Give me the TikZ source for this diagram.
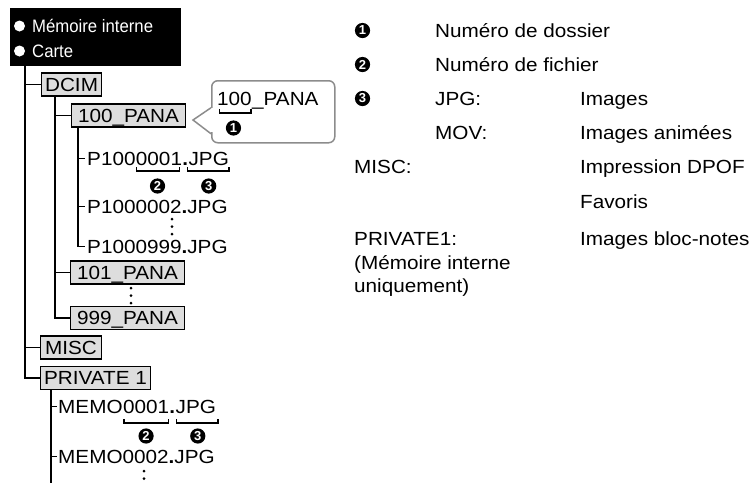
\documentclass[tikz,border=0pt]{standalone}
\usepackage{fontspec}
\setmainfont{Liberation Sans}
\newfontfamily\wf[FakeStretch=1.09]{Liberation Sans}
\newfontfamily\nf[FakeStretch=0.93]{Liberation Sans}
\usetikzlibrary{calc}
\definecolor{boxgray}{RGB}{221,221,221}
\definecolor{callgray}{RGB}{140,140,140}
\tikzset{
  txt/.style={inner sep=0pt, anchor=base west, font=\wf\fontsize{19}{23}\selectfont},
  hdrtxt/.style={inner sep=0pt, anchor=base west, text=white, font=\nf\fontsize{18}{22}\selectfont},
  folder/.style={draw=black, fill=boxgray, line width=1.1pt, inner sep=0pt, anchor=west,
    minimum height=23pt, text height=13.6pt, text depth=0pt, font=\wf\fontsize{19}{23}\selectfont},
  tree/.style={line width=1.2pt, black},
  numtxt/.style={inner sep=0pt, text=white, font=\bfseries\fontsize{13}{13}\selectfont},
  brk/.style={line width=1.4pt, black},
}
\newcommand{\brkt}[4]{\draw[brk] ($(#1.base west)+(#2,#4-4)$) |- ($(#1.base east)+(#3,#4)$) -- ($(#1.base east)+(#3,#4-4)$);}
\newcommand{\numc}[3]{\coordinate (#1c) at #2; \fill[black] (#1c) circle (7.6); \node[numtxt] (#1) at (#1c) {#3};}
\begin{document}
\begin{tikzpicture}[x=1pt,y=-1pt]
\useasboundingbox (0,0) rectangle (755,483);

% header
\node[fill=black, inner sep=0pt, minimum width=171pt, minimum height=58pt, anchor=north west] (hdr) at (10,8) {};
\fill[white] (19.5,26) circle (5.5);
\fill[white] (19.5,51) circle (5.5);
\node[hdrtxt] (h1) at (32,32) {Mémoire interne};
\node[hdrtxt] (h2) at (32,57) {Carte};

% folders
\node[folder, minimum width=60pt] (dcim) at (41,84.5) {DCIM};
\node[folder, minimum width=114pt] (p100) at (71,115.5) {100\_PANA};
\node[folder, minimum width=114pt] (p101) at (70,272.5) {101\_PANA};
\node[folder, minimum width=114pt] (p999) at (70,318) {999\_PANA};
\node[folder, minimum width=61pt] (misc) at (40,347.5) {MISC};
\node[folder, minimum width=110pt] (priv) at (40,378) {PRIVATE 1};

% main tree lines
\coordinate (mtop) at (25,66);
\draw[tree] (mtop) |- (priv.west);
\draw[tree] (mtop|-dcim.west) -- (dcim.west);
\draw[tree] (mtop|-misc.west) -- (misc.west);

\coordinate (dtop) at ($(dcim.south west)+(14,0)$);
\draw[tree] (dtop) |- (p999.west);
\draw[tree] (dtop|-p100.west) -- (p100.west);
\draw[tree] (dtop|-p101.west) -- (p101.west);

\fill (131,288) circle (1.5) (131,295.5) circle (1.5) (131,303) circle (1.5);

% files in 100_PANA
\node[txt] (f1a) at (87,165) {P100};
\node[txt] (f1b) at (f1a.base east) {0001};
\node[txt] (f1c) at (f1b.base east) {\textbf{.}};
\node[txt] (f1d) at (f1c.base east) {JPG};
\node[txt] (f2) at (87,213) {P1000002\textbf{.}JPG};
\node[txt] (f3) at (87,253) {P1000999\textbf{.}JPG};

\coordinate (ftop) at ($(p100.south west)+(7,0)$);
\draw[tree] (ftop|-f1a.west) -- ($(f1a.west)+(-2,0)$);
\draw[tree] (ftop|-f2.west) -- ($(f2.west)+(-2,0)$);
\draw[tree] (ftop) |- ($(f3.west)+(-2,0)$);

\fill (172,219) circle (1.5) (172,226.5) circle (1.5) (172,234) circle (1.5);

\brkt{f1b}{0.5}{-3}{6}
\brkt{f1d}{-1}{0}{6}
\numc{n2a}{($(f1b.base)+(-1.5,21)$)}{2}
\numc{n3a}{($(f1d.base)+(0,21)$)}{3}

% memo files
\node[txt] (m1a) at (58,413) {MEMO};
\node[txt] (m1b) at (m1a.base east) {0001};
\node[txt] (m1c) at (m1b.base east) {\textbf{.}};
\node[txt] (m1d) at (m1c.base east) {JPG};
\node[txt] (m2) at (58,463) {MEMO0002\textbf{.}JPG};

\coordinate (ptop) at ($(priv.south west)+(11,0)$);
\coordinate (pbot) at (51,483);
\draw[tree] (ptop) -- (pbot);
\draw[tree] (ptop|-m1a.west) -- ($(m1a.west)+(-1,0)$);
\draw[tree] (ptop|-m2.west) -- ($(m2.west)+(-1,0)$);

\brkt{m1b}{1}{-1}{10}
\brkt{m1d}{1}{2}{10}
\numc{n2b}{($(m1b.base)+(0,23)$)}{2}
\numc{n3b}{($(m1d.base)+(2,23)$)}{3}

\fill (144,471) circle (1.5) (144,478.5) circle (1.5);

% callout
\node[draw=callgray, line width=1.5pt, rounded corners=6pt, fill=white, inner sep=0pt,
  minimum width=123pt, minimum height=62pt, anchor=north west] (call) at (211,80) {};
\fill[white] (209,108.2) rectangle (213,131.8);
\coordinate (tip) at (193,120);
\draw[callgray, line width=1.5pt] ($(call.west)+(0,-4)$) -- (tip) -- ($(call.west)+(0,22)$);
\node[txt] (c1a) at (217,105) {100};
\node[txt] (c1b) at (c1a.base east) {\_PANA};
\brkt{c1a}{2.5}{-1}{8}
\numc{n1a}{($(c1a.base)+(-1,23)$)}{1}

% right column
\numc{r1}{(362.5,30.5)}{1}
\numc{r2}{(362.5,64.5)}{2}
\numc{r3}{(362.5,98.5)}{3}
\node[txt] (t1) at (435,37) {Numéro de dossier};
\node[txt] (t2) at (435,71) {Numéro de fichier};
\node[txt] (t3) at (435,105) {JPG:};
\node[txt] (t3b) at (580,105) {Images};
\node[txt] (t4) at (435,139) {MOV:};
\node[txt] (t4b) at (580,139) {Images animées};
\node[txt] (t5) at (354,173) {MISC:};
\node[txt] (t5b) at (580,173) {Impression DPOF};
\node[txt] (t6b) at (580,208) {Favoris};
\node[txt] (t7) at (354,245) {PRIVATE1:};
\node[txt] (t7l2) at (354,269) {(Mémoire interne};
\node[txt] (t7l3) at (354,292) {uniquement)};
\node[txt] (t7b) at (580,245) {Images bloc-notes};
\end{tikzpicture}
\end{document}
